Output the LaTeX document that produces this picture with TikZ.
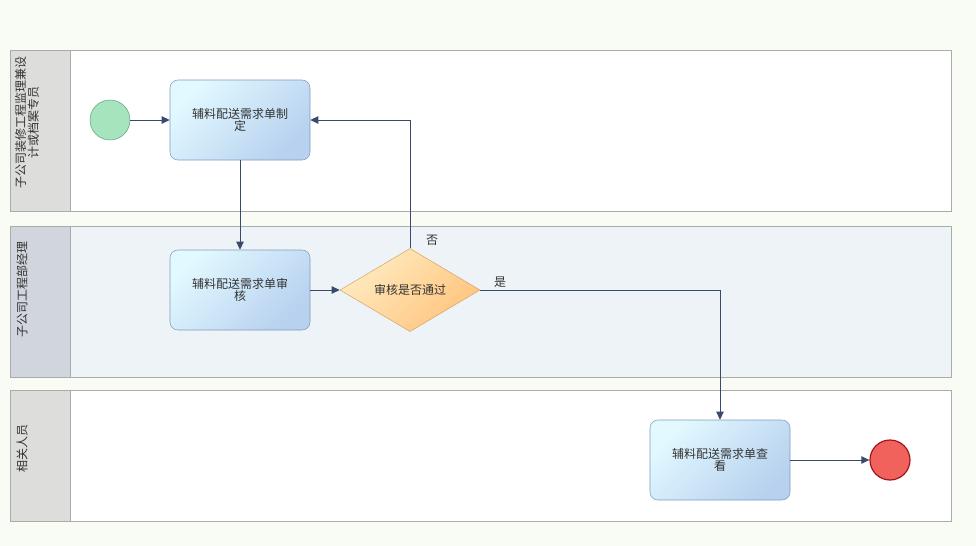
\documentclass[tikz,border=0pt]{standalone}
\usepackage{fontspec}
\setmainfont{Noto Sans CJK SC}
\usetikzlibrary{shapes.geometric,arrows.meta}
\definecolor{pagebg}{HTML}{F8FCF4}
\definecolor{laneline}{HTML}{A9ACA9}
\definecolor{headgray}{HTML}{DDDEDC}
\definecolor{headblue}{HTML}{D1D6DE}
\definecolor{laneblue}{HTML}{EEF3F8}
\definecolor{flowcol}{HTML}{3A4A6C}
\definecolor{taskline}{HTML}{809CBE}
\definecolor{tasktop}{HTML}{E2F9FF}
\definecolor{taskbot}{HTML}{B7D1EF}
\definecolor{decline}{HTML}{D9A566}
\definecolor{dectop}{HTML}{FFEBC0}
\definecolor{decbot}{HTML}{FFC47E}
\definecolor{startcol}{HTML}{A6E4BE}
\definecolor{startline}{HTML}{64A57A}
\definecolor{endcol}{HTML}{F2625C}
\definecolor{endline}{HTML}{A3141A}
\definecolor{txt}{HTML}{333333}
\begin{document}
\begin{tikzpicture}[x=0.75pt,y=-0.75pt,
    font=\fontsize{9}{9.5}\selectfont,text=txt,
    lane/.style={draw=laneline,line width=0.6pt},
    task/.style={draw=taskline,rounded corners=6pt,minimum width=105pt,minimum height=60pt,
      inner sep=0pt,align=center,top color=tasktop,bottom color=taskbot,shading angle=45},
    decision/.style={diamond,draw=decline,minimum width=105pt,minimum height=60pt,inner sep=0pt,
      top color=dectop,bottom color=decbot,shading angle=45},
    startev/.style={circle,draw=startline,fill=startcol,minimum size=30pt,inner sep=0pt},
    endev/.style={circle,draw=endline,line width=0.9pt,fill=endcol,minimum size=30pt,inner sep=0pt},
    lanename/.style={rotate=90,align=center},
    flow/.style={draw=flowcol,line width=0.75pt,-{Triangle[length=6pt,width=5.5pt]}}]
  % page and lanes
  \fill[pagebg] (0,0) rectangle (976,546);
  \path[lane,fill=white] (10,50) rectangle (951,211);
  \path[lane,fill=headgray] (10,50) rectangle (70,211);
  \path[lane,fill=laneblue] (10,226) rectangle (951,377);
  \path[lane,fill=headblue] (10,226) rectangle (70,377);
  \path[lane,fill=white] (10,390) rectangle (951,521);
  \path[lane,fill=headgray] (10,390) rectangle (70,521);
  \path (27,122) node[lanename] (lane1) {子公司装修工程监理兼设\\计或档案专员};
  \path (22,289) node[lanename] (lane2) {子公司工程部经理};
  \path (22,448) node[lanename] (lane3) {相关人员};
  % flow nodes
  \path (110,120) node[startev] (start) {};
  \path (240,120) node[task] (make) {辅料配送需求单制\\定};
  \path (240,290) node[task] (check) {辅料配送需求单审\\核};
  \path (410,290) node[decision] (pass) {审核是否通过};
  \path (720,460) node[task] (view) {辅料配送需求单查\\看};
  \path (890,460) node[endev] (end) {};
  \path (432,240) node (no) {否};
  \path (500,282) node (yes) {是};
  % connectors
  \draw[flow] (start) -- (make);
  \draw[flow] (make) -- (check);
  \draw[flow] (check) -- (pass);
  \draw[flow] (pass.north) |- (make.east);
  \draw[flow] (pass.east) -| (view.north);
  \draw[flow] (view) -- (end);
\end{tikzpicture}
\end{document}
